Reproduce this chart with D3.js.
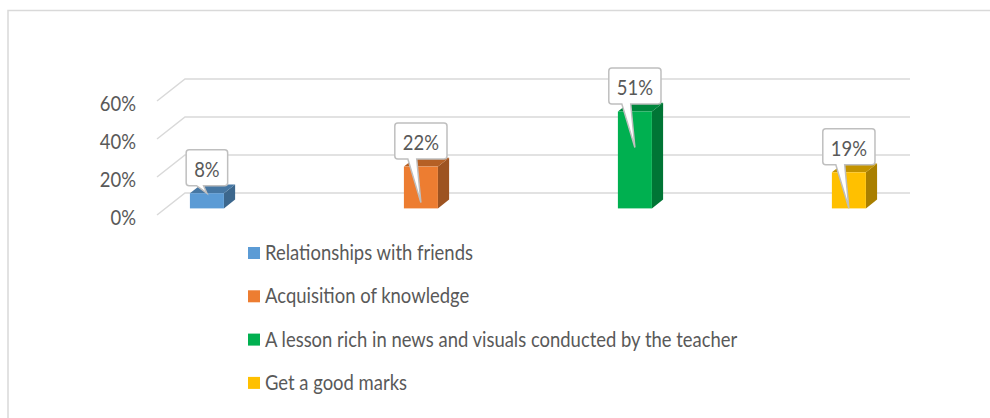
<!DOCTYPE html>
<html>
<head>
<meta charset="utf-8">
<script src="https://cdn.jsdelivr.net/npm/d3@7/dist/d3.min.js"></script>
<style>
  html, body { margin: 0; padding: 0; background: #fff; }
  svg { display: block; }
  text { font-family: Lato, "Open Sans", sans-serif; fill: #595959; }
</style>
</head>
<body>
<svg id="chart" width="990" height="418"></svg>
<script>
const categories = [
  "Relationships with friends",
  "Acquisition of knowledge",
  "A lesson rich in news and visuals conducted by the teacher",
  "Get a good marks"
];
const values = [0.08, 0.22, 0.51, 0.19];
const valueLabels = ["8%", "22%", "51%", "19%"];
const tickValues = [0, 0.2, 0.4, 0.6];
const tickLabels = ["0%", "20%", "40%", "60%"];
const colors = ["#5B9BD5", "#ED7D31", "#00B050", "#FFC000"];

const W = 990, H = 418;
const svg = d3.select("#chart");
const FS = 21.5, KX = 0.858; // font size, horizontal squeeze

// 3D projection
const DX = 28, DY = -22;           // full depth offset
const D0 = 0.3, D1 = 0.7;          // bar depth span
const floorLeft = 157, floorRight = 882;

const y = d3.scaleLinear().domain([0, 0.6]).range([215, 101]);
const x = d3.scalePoint().domain(categories).range([floorLeft, floorRight]).padding(0.194);
const barW = 34;

// chart border
svg.append("rect").attr("x", 8).attr("y", 10.5).attr("width", W + 20).attr("height", H + 20)
  .attr("fill", "none").attr("stroke", "#d9d9d9").attr("stroke-width", 1.5);

// gridlines: diagonal on side wall + back wall lines
const grid = svg.append("g").attr("stroke", "#d9d9d9").attr("stroke-width", 1.5).attr("fill", "none");
tickValues.forEach(t => {
  const yf = y(t);
  grid.append("path").attr("d", `M${floorLeft},${yf} L${floorLeft + DX},${yf + DY} L${floorRight + DX},${yf + DY}`);
});

// tick labels
tickValues.forEach((t, i) => {
  svg.append("text")
    .attr("transform", `translate(136,${y(t) + 10}) scale(${KX},1)`)
    .attr("text-anchor", "end")
    .attr("font-size", FS)
    .text(tickLabels[i]);
});

// bars
const bars = svg.append("g");
categories.forEach((c, i) => {
  const v = values[i];
  const cx = x(c) + D0 * DX;
  const l = cx - barW / 2, r = cx + barW / 2;
  const b = y(0) + D0 * DY, t = y(v) + D0 * DY;
  const ox = (D1 - D0) * DX, oy = (D1 - D0) * DY;
  const base = d3.color(colors[i]);
  bars.append("path").attr("d", `M${r},${b} L${r + ox},${b + oy} L${r + ox},${t + oy} L${r},${t} Z`)
    .attr("fill", base.darker(1.15));
  bars.append("path").attr("d", `M${l},${t} L${l + ox},${t + oy} L${r + ox},${t + oy} L${r},${t} Z`)
    .attr("fill", base.darker(0.75));
  bars.append("rect").attr("x", l).attr("y", t).attr("width", barW).attr("height", b - t)
    .attr("fill", base);
});

// callouts
const callouts = svg.append("g");
categories.forEach((c, i) => {
  const v = values[i];
  const cx = x(c) + D0 * DX;
  const b = y(0) + D0 * DY, t = y(v) + D0 * DY;
  const h = b - t;
  const g = callouts.append("g");
  const txt = g.append("text")
    .attr("font-size", FS)
    .attr("text-anchor", "middle")
    .text(valueLabels[i]);
  const tw = txt.node().getComputedTextLength() * KX;
  const bw = tw + 16, bh = 36;
  const bx = cx - bw / 2, bb = t - 7.5, bt = bb - bh;
  const tipX = cx, tipY = h > 20 ? t + 36 : t;
  const p1 = bx + bw * 0.25, p2 = bx + bw * 0.42;
  const rr = 3;
  const d = `M${bx + rr},${bt} H${bx + bw - rr} Q${bx + bw},${bt} ${bx + bw},${bt + rr} V${bb - rr} Q${bx + bw},${bb} ${bx + bw - rr},${bb}` +
            ` H${p2} L${tipX},${tipY} L${p1},${bb} H${bx + rr} Q${bx},${bb} ${bx},${bb - rr} V${bt + rr} Q${bx},${bt} ${bx + rr},${bt} Z`;
  g.insert("path", "text").attr("d", d).attr("fill", "#fff").attr("stroke", "#bfbfbf").attr("stroke-width", 1.5);
  txt.attr("transform", `translate(${cx},${bb - 9}) scale(${KX},1)`);
});

// legend
const legend = svg.append("g");
categories.forEach((c, i) => {
  const cy = 253 + i * 43.3;
  legend.append("rect").attr("x", 248).attr("y", cy - 6).attr("width", 12).attr("height", 12).attr("fill", colors[i]);
  legend.append("text")
    .attr("transform", `translate(265,${cy + 7}) scale(${KX},1)`)
    .attr("font-size", FS)
    .text(c);
});
</script>
</body>
</html>
